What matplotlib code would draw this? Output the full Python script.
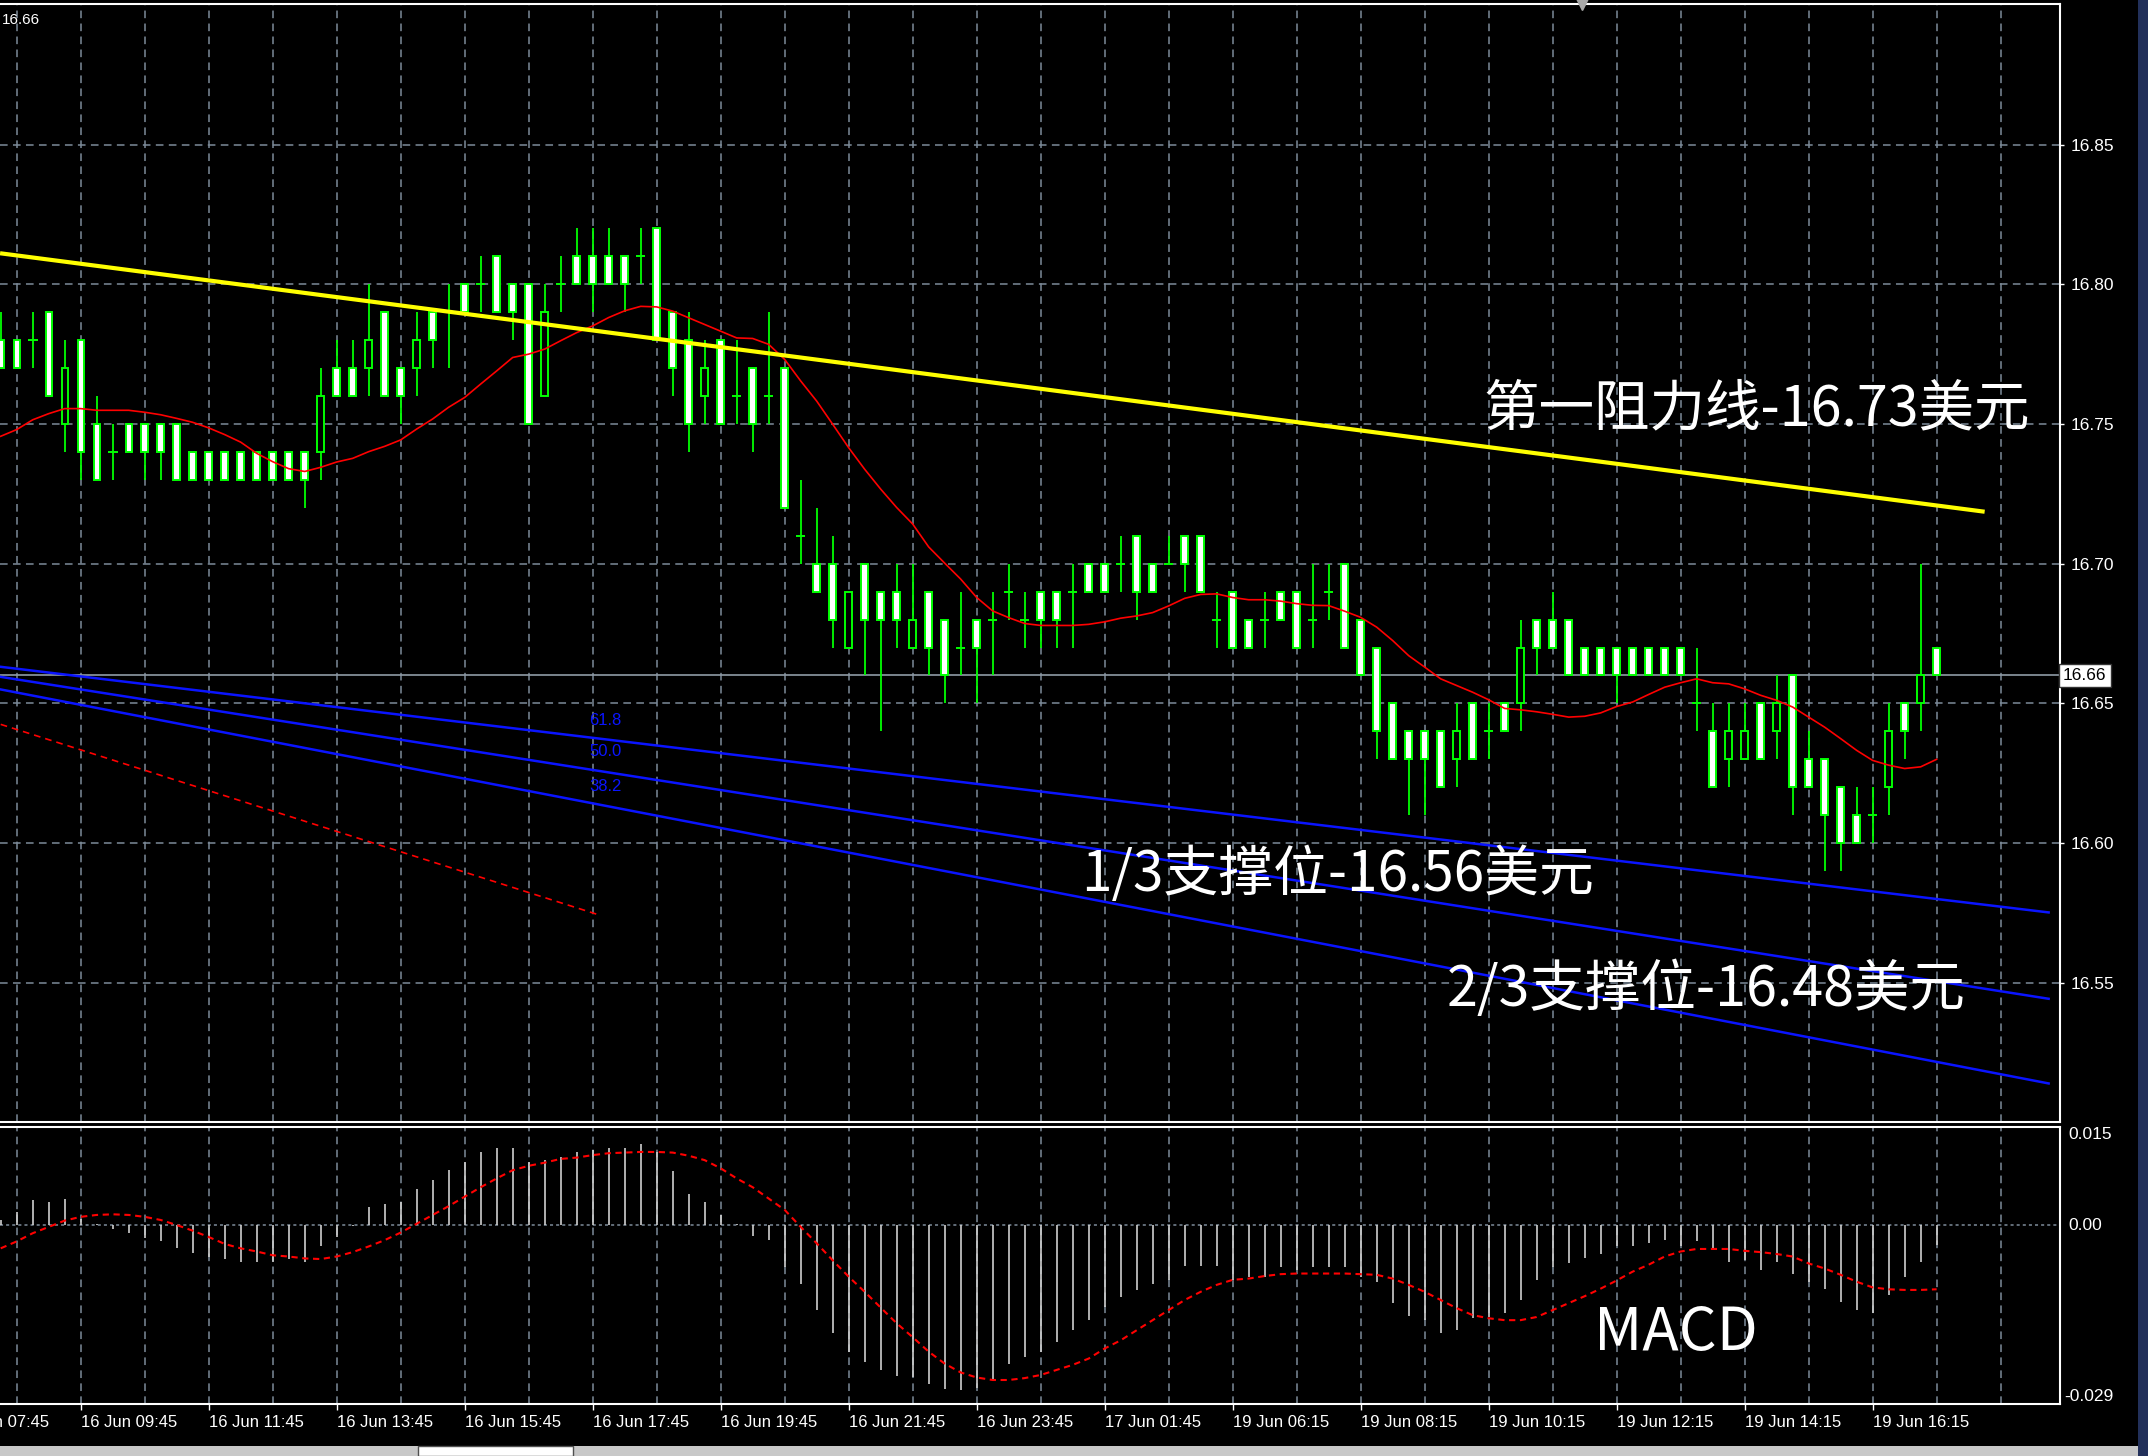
import matplotlib
matplotlib.use('Agg')
import matplotlib.pyplot as plt
import matplotlib.transforms as mtransforms
from matplotlib.patches import Rectangle
import numpy as np

# ---- XAGUSD M15 bars (index 0 = 16 Jun 07:45) ----
bar_idx = np.arange(3, 125)
opens = [16.78, 16.78, 16.78, 16.79, 16.75, 16.78, 16.75, 16.74, 16.75, 16.75,
         16.75, 16.75, 16.74, 16.74, 16.74, 16.74, 16.74, 16.74, 16.74, 16.74,
         16.74, 16.77, 16.77, 16.77, 16.79, 16.77, 16.77, 16.79, 16.79, 16.80,
         16.80, 16.81, 16.80, 16.80, 16.76, 16.80, 16.81, 16.81, 16.81, 16.81,
         16.81, 16.82, 16.79, 16.78, 16.76, 16.78, 16.76, 16.77, 16.76, 16.77,
         16.71, 16.70, 16.70, 16.67, 16.70, 16.69, 16.69, 16.67, 16.69, 16.68,
         16.67, 16.68, 16.68, 16.69, 16.68, 16.69, 16.69, 16.69, 16.70, 16.70,
         16.70, 16.71, 16.70, 16.70, 16.71, 16.71, 16.68, 16.69, 16.68, 16.68,
         16.69, 16.69, 16.68, 16.69, 16.70, 16.68, 16.67, 16.65, 16.64, 16.64,
         16.64, 16.63, 16.65, 16.64, 16.65, 16.65, 16.68, 16.68, 16.68, 16.67,
         16.67, 16.67, 16.67, 16.67, 16.67, 16.67, 16.65, 16.64, 16.63, 16.63,
         16.65, 16.64, 16.66, 16.63, 16.63, 16.62, 16.61, 16.61, 16.62, 16.65,
         16.65, 16.67]
highs = [16.79, 16.78, 16.79, 16.79, 16.78, 16.78, 16.76, 16.75, 16.75, 16.75,
         16.75, 16.75, 16.74, 16.74, 16.74, 16.74, 16.74, 16.74, 16.74, 16.74,
         16.77, 16.78, 16.78, 16.80, 16.79, 16.77, 16.79, 16.79, 16.80, 16.80,
         16.81, 16.81, 16.80, 16.80, 16.80, 16.81, 16.82, 16.82, 16.82, 16.81,
         16.82, 16.82, 16.79, 16.79, 16.78, 16.78, 16.78, 16.77, 16.79, 16.77,
         16.73, 16.72, 16.71, 16.69, 16.70, 16.69, 16.70, 16.70, 16.69, 16.68,
         16.69, 16.68, 16.69, 16.70, 16.69, 16.69, 16.69, 16.70, 16.70, 16.70,
         16.71, 16.71, 16.70, 16.71, 16.71, 16.71, 16.69, 16.69, 16.68, 16.69,
         16.69, 16.69, 16.70, 16.70, 16.70, 16.68, 16.67, 16.65, 16.64, 16.64,
         16.64, 16.65, 16.65, 16.65, 16.65, 16.68, 16.68, 16.69, 16.68, 16.67,
         16.67, 16.67, 16.67, 16.67, 16.67, 16.67, 16.67, 16.65, 16.65, 16.65,
         16.65, 16.66, 16.66, 16.64, 16.63, 16.62, 16.62, 16.62, 16.65, 16.65,
         16.70, 16.67]
lows = [16.77, 16.77, 16.77, 16.76, 16.74, 16.73, 16.73, 16.73, 16.74, 16.73,
        16.73, 16.73, 16.73, 16.73, 16.73, 16.73, 16.73, 16.73, 16.73, 16.72,
        16.73, 16.76, 16.76, 16.76, 16.76, 16.75, 16.76, 16.77, 16.77, 16.79,
        16.79, 16.79, 16.78, 16.75, 16.76, 16.79, 16.80, 16.79, 16.80, 16.79,
        16.80, 16.78, 16.76, 16.74, 16.75, 16.75, 16.75, 16.74, 16.75, 16.72,
        16.70, 16.69, 16.67, 16.67, 16.66, 16.64, 16.67, 16.67, 16.66, 16.65,
        16.66, 16.65, 16.66, 16.68, 16.67, 16.67, 16.67, 16.67, 16.69, 16.69,
        16.69, 16.68, 16.69, 16.70, 16.69, 16.69, 16.67, 16.67, 16.67, 16.67,
        16.68, 16.67, 16.67, 16.68, 16.67, 16.66, 16.63, 16.63, 16.61, 16.61,
        16.62, 16.62, 16.63, 16.63, 16.64, 16.64, 16.66, 16.67, 16.66, 16.66,
        16.66, 16.65, 16.66, 16.66, 16.66, 16.66, 16.64, 16.62, 16.62, 16.63,
        16.63, 16.63, 16.61, 16.62, 16.59, 16.59, 16.60, 16.60, 16.61, 16.63,
        16.64, 16.66]
closes = [16.77, 16.77, 16.78, 16.76, 16.77, 16.74, 16.73, 16.74, 16.74, 16.74,
          16.74, 16.73, 16.73, 16.73, 16.73, 16.73, 16.73, 16.73, 16.73, 16.73,
          16.76, 16.76, 16.76, 16.78, 16.76, 16.76, 16.78, 16.78, 16.79, 16.79,
          16.80, 16.79, 16.79, 16.75, 16.79, 16.80, 16.80, 16.80, 16.80, 16.80,
          16.81, 16.78, 16.77, 16.75, 16.77, 16.75, 16.76, 16.75, 16.76, 16.72,
          16.71, 16.69, 16.68, 16.69, 16.68, 16.68, 16.68, 16.68, 16.67, 16.66,
          16.67, 16.67, 16.68, 16.69, 16.68, 16.68, 16.68, 16.69, 16.69, 16.69,
          16.70, 16.69, 16.69, 16.70, 16.70, 16.69, 16.68, 16.67, 16.67, 16.68,
          16.68, 16.67, 16.68, 16.69, 16.67, 16.66, 16.64, 16.63, 16.63, 16.63,
          16.62, 16.64, 16.63, 16.64, 16.64, 16.67, 16.67, 16.67, 16.66, 16.66,
          16.66, 16.66, 16.66, 16.66, 16.66, 16.66, 16.65, 16.62, 16.64, 16.64,
          16.63, 16.65, 16.62, 16.62, 16.61, 16.60, 16.60, 16.61, 16.64, 16.64,
          16.66, 16.66]

# red moving average on the price window
ma_vals = [16.7456, 16.7480, 16.7515, 16.7537, 16.7555, 16.7555, 16.7549, 16.7549, 16.7549, 16.7542,
           16.7533, 16.7520, 16.7506, 16.7486, 16.7462, 16.7435, 16.7395, 16.7365, 16.7340, 16.7330,
           16.7345, 16.7364, 16.7377, 16.7401, 16.7420, 16.7443, 16.7482, 16.7518, 16.7560, 16.7595,
           16.7643, 16.7690, 16.7738, 16.7750, 16.7768, 16.7798, 16.7827, 16.7851, 16.7881, 16.7905,
           16.7921, 16.7919, 16.7904, 16.7880, 16.7856, 16.7832, 16.7808, 16.7806, 16.7785, 16.7731,
           16.7654, 16.7582, 16.7499, 16.7415, 16.7338, 16.7267, 16.7201, 16.7142, 16.7060, 16.7002,
           16.6945, 16.6879, 16.6831, 16.6807, 16.6786, 16.6779, 16.6779, 16.6779, 16.6783, 16.6792,
           16.6805, 16.6813, 16.6825, 16.6849, 16.6876, 16.6890, 16.6892, 16.6879, 16.6871, 16.6871,
           16.6866, 16.6857, 16.6851, 16.6850, 16.6830, 16.6808, 16.6773, 16.6725, 16.6671, 16.6630,
           16.6588, 16.6564, 16.6540, 16.6513, 16.6482, 16.6477, 16.6470, 16.6461, 16.6451, 16.6454,
           16.6466, 16.6489, 16.6505, 16.6532, 16.6558, 16.6574, 16.6588, 16.6574, 16.6570, 16.6552,
           16.6529, 16.6511, 16.6487, 16.6451, 16.6415, 16.6374, 16.6332, 16.6296, 16.6279, 16.6267,
           16.6273, 16.6300]

# MACD sub window
macd_hist = [0.0008, 0.0021, 0.0040, 0.0037, 0.0042, 0.0010, 0.0002, -0.0007, -0.0013, -0.0020,
             -0.0026, -0.0036, -0.0045, -0.0050, -0.0054, -0.0058, -0.0059, -0.0058, -0.0054, -0.0058,
             -0.0033, -0.0019, -0.0002, 0.0028, 0.0033, 0.0037, 0.0057, 0.0071, 0.0087, 0.0100,
             0.0116, 0.0122, 0.0123, 0.0100, 0.0103, 0.0108, 0.0116, 0.0119, 0.0122, 0.0122,
             0.0129, 0.0116, 0.0085, 0.0049, 0.0037, 0.0016, 0.0002, -0.0017, -0.0024, -0.0066,
             -0.0093, -0.0135, -0.0172, -0.0201, -0.0217, -0.0230, -0.0240, -0.0242, -0.0252, -0.0261,
             -0.0262, -0.0258, -0.0246, -0.0220, -0.0209, -0.0201, -0.0185, -0.0167, -0.0151, -0.0130,
             -0.0114, -0.0103, -0.0093, -0.0087, -0.0065, -0.0065, -0.0065, -0.0087, -0.0082, -0.0082,
             -0.0066, -0.0071, -0.0066, -0.0066, -0.0066, -0.0082, -0.0090, -0.0124, -0.0144, -0.0151,
             -0.0172, -0.0167, -0.0148, -0.0146, -0.0140, -0.0119, -0.0087, -0.0066, -0.0061, -0.0053,
             -0.0046, -0.0033, -0.0033, -0.0029, -0.0024, -0.0034, -0.0026, -0.0037, -0.0058, -0.0056,
             -0.0071, -0.0058, -0.0077, -0.0090, -0.0101, -0.0122, -0.0135, -0.0140, -0.0111, -0.0082,
             -0.0058, -0.0032]
macd_signal = [-0.0037, -0.0026, -0.0013, -0.0003, 0.0007, 0.0013, 0.0016, 0.0017, 0.0016, 0.0013,
               0.0008, 0.0000, -0.0009, -0.0019, -0.0030, -0.0037, -0.0042, -0.0048, -0.0050, -0.0053,
               -0.0054, -0.0050, -0.0043, -0.0034, -0.0024, -0.0012, 0.0002, 0.0016, 0.0030, 0.0045,
               0.0060, 0.0074, 0.0087, 0.0094, 0.0099, 0.0105, 0.0107, 0.0111, 0.0114, 0.0115,
               0.0116, 0.0116, 0.0115, 0.0110, 0.0103, 0.0090, 0.0074, 0.0060, 0.0042, 0.0024,
               -0.0003, -0.0029, -0.0056, -0.0082, -0.0106, -0.0131, -0.0156, -0.0178, -0.0201, -0.0220,
               -0.0234, -0.0242, -0.0246, -0.0246, -0.0243, -0.0238, -0.0230, -0.0222, -0.0212, -0.0196,
               -0.0183, -0.0167, -0.0151, -0.0135, -0.0119, -0.0106, -0.0095, -0.0087, -0.0085, -0.0081,
               -0.0078, -0.0077, -0.0077, -0.0077, -0.0077, -0.0078, -0.0079, -0.0085, -0.0095, -0.0106,
               -0.0119, -0.0132, -0.0143, -0.0148, -0.0151, -0.0151, -0.0146, -0.0135, -0.0124, -0.0113,
               -0.0101, -0.0088, -0.0074, -0.0063, -0.0050, -0.0042, -0.0038, -0.0038, -0.0038, -0.0041,
               -0.0043, -0.0046, -0.0050, -0.0061, -0.0069, -0.0079, -0.0090, -0.0099, -0.0102, -0.0103,
               -0.0103, -0.0102]

# time axis labels, one every 8 bars
time_labels = ['16 Jun 07:45', '16 Jun 09:45', '16 Jun 11:45', '16 Jun 13:45',
               '16 Jun 15:45', '16 Jun 17:45', '16 Jun 19:45', '16 Jun 21:45',
               '16 Jun 23:45', '17 Jun 01:45', '19 Jun 06:15', '19 Jun 08:15',
               '19 Jun 10:15', '19 Jun 12:15', '19 Jun 14:15', '19 Jun 16:15']
price_ticks = [16.55, 16.60, 16.65, 16.70, 16.75, 16.80, 16.85]
bid_price = 16.66

# drawn objects: (bar, price) anchor pairs
resist_bars, resist_prices = [2.96, 127.0], [16.8111, 16.7186]
fan_bars = [3, 131]
fan_prices = {'61.8': [16.6631, 16.5752],
              '50.0': [16.6595, 16.5443],
              '38.2': [16.6550, 16.5140]}
base_bars, base_prices = [3, 40.4], [16.6425, 16.5743]

notes = ['第一阻力线-16.73美元', '1/3支撑位-16.56美元', '2/3支撑位-16.48美元']

# ---- figure ----
W, H = 2148, 1456
fig = plt.figure(figsize=(W / 100, H / 100), dpi=100, facecolor='black')
cjk = ['Noto Sans CJK SC', 'DejaVu Sans']
ui = 'Liberation Sans'
grid_c = '#7D8B99'
lime = '#00FF00'

ax = fig.add_axes([0, 1 - 1122 / H, 2060 / W, 1118 / H], facecolor='black')
mx = fig.add_axes([0, 1 - 1404 / H, 2060 / W, 277 / H], facecolor='black')

for a in (ax, mx):
    a.set_xlim(2.956, 131.71)
    for s in ('top', 'right', 'bottom'):
        a.spines[s].set_color('white')
        a.spines[s].set_linewidth(1.5)
    a.spines['left'].set_visible(False)
    for gx in range(4, 132, 4):
        a.axvline(gx, color=grid_c, lw=1.1, dashes=(5, 3.5), zorder=1)

ax.set_ylim(16.5002, 16.9003)
mx.set_ylim(-0.02841, 0.01556)

# price grid + bid line
for p in price_ticks:
    ax.axhline(p, color=grid_c, lw=1.1, dashes=(5, 3.5), zorder=1)
ax.axhline(bid_price, color='#8F9BA6', lw=1.2, zorder=2)

# candles
o, h, l, c = map(np.array, (opens, highs, lows, closes))
doji = o == c
lo_b, hi_b = np.minimum(o, c), np.maximum(o, c)
ax.vlines(bar_idx, l, h, color=lime, lw=1.3, zorder=3)
fill = np.where(c < o, 'white', 'black')
ax.bar(bar_idx[~doji], (hi_b - lo_b)[~doji], bottom=lo_b[~doji], width=0.4,
       color=fill[~doji], edgecolor=lime, linewidth=1.4, zorder=4)
ax.hlines(o[doji], bar_idx[doji] - 0.3, bar_idx[doji] + 0.3, color=lime, lw=1.4, zorder=4)

# moving average
ax.plot(bar_idx, ma_vals, color='#FF0000', lw=1.2, zorder=5)

# trend line, fib fan
ax.plot(resist_bars, resist_prices, color='#FFFF00', lw=3.0, solid_capstyle='butt', zorder=6)
for name, ps in fan_prices.items():
    ax.plot(fan_bars, ps, color='#0A14FF', lw=1.8, zorder=5)
ax.plot(base_bars, base_prices, color='#FF0000', lw=1.2, dashes=(4, 3), zorder=5)
for name, yv in zip(fan_prices, [16.644, 16.6327, 16.6204]):
    ax.text(39.8, yv, name, color='#0A14FF', fontsize=12, family=ui, va='center', zorder=6)

# right price scale
ax.yaxis.tick_right()
ax.set_yticks(price_ticks)
ax.set_yticklabels([f'{p:.2f}' for p in price_ticks])
ax.tick_params(axis='y', colors='white', length=3, width=1, pad=5, labelsize=12.5)
for t in ax.get_yticklabels():
    t.set_family(ui)
ax.set_xticks([])
ax.text(1.0015, bid_price, f'{bid_price:.2f}', transform=ax.get_yaxis_transform(),
        color='black', fontsize=12.5, family=ui, va='center', ha='left',
        bbox=dict(boxstyle='square,pad=0.25', fc='white', ec='#333333', lw=1), zorder=10)

# annotations
ax.text(95.7, 16.7550, notes[0], color='white', fontsize=40, family=cjk, va='center', zorder=10)
ax.text(70.5, 16.5885, notes[1], color='white', fontsize=39.5, family=cjk, va='center', zorder=10)
ax.text(93.4, 16.5472, notes[2], color='white', fontsize=40, family=cjk, va='center', zorder=10)

# MACD panel
mx.axhline(0, color=grid_c, lw=1.1, dashes=(2, 2), zorder=1)
mx.vlines(bar_idx, 0, macd_hist, color='#CFCFCF', lw=1.2, zorder=3)
mx.plot(bar_idx, macd_signal, color='#FF0000', lw=1.5, dashes=(3, 2.2), zorder=4)
mx.text(102.6, -0.0172, 'MACD', color='white', fontsize=43, family=cjk, va='center', zorder=10)
mx.set_yticks([])
ytr = mx.get_yaxis_transform()
mx.text(1.004, 1.0, '0.015', transform=mx.transAxes, color='white', fontsize=12.5,
        family=ui, va='top', ha='left')
mx.text(1.004, 0.0, '0.00', transform=ytr, color='white', fontsize=12.5, family=ui,
        va='center', ha='left')
mx.text(1.002, 0.0, '-0.029', transform=mx.transAxes, color='white', fontsize=12.5,
        family=ui, va='bottom', ha='left')

# time axis
tick_pos = [8 * k for k in range(len(time_labels))]
mx.set_xticks([t for t in tick_pos if t > 3])
mx.tick_params(axis='x', colors='white', length=4, width=1, labelbottom=False)
xtr = mtransforms.blended_transform_factory(mx.transData, mx.transAxes)
for t, lab in zip(tick_pos, time_labels):
    mx.text(t, -0.068, lab, transform=xtr, color='white', fontsize=12, family=ui,
            ha='left', va='center', clip_on=False)

# window bits: header value, shift marker, tabs, desktop strip
fig.text(2 / W, 1 - 20 / H, '16.66', color='white', fontsize=11, family=ui, va='center')
ax.plot([1582 / 2060], [1.0], marker='v', ms=9, color='#A8A8A8', transform=ax.transAxes,
        clip_on=False, zorder=12)
fig.patches.append(Rectangle((0, 0), 1, 10 / H, transform=fig.transFigure,
                             fc='#C8C8C8', ec='none', zorder=0))
fig.patches.append(Rectangle((418 / W, 0), 155 / W, 10 / H, transform=fig.transFigure,
                             fc='white', ec='#505050', lw=1, zorder=1))
fig.patches.append(Rectangle((2138 / W, 0), 10 / W, 1, transform=fig.transFigure,
                             fc='#22305A', ec='none', zorder=0))

fig.savefig('out.png', dpi=100, facecolor='black')
